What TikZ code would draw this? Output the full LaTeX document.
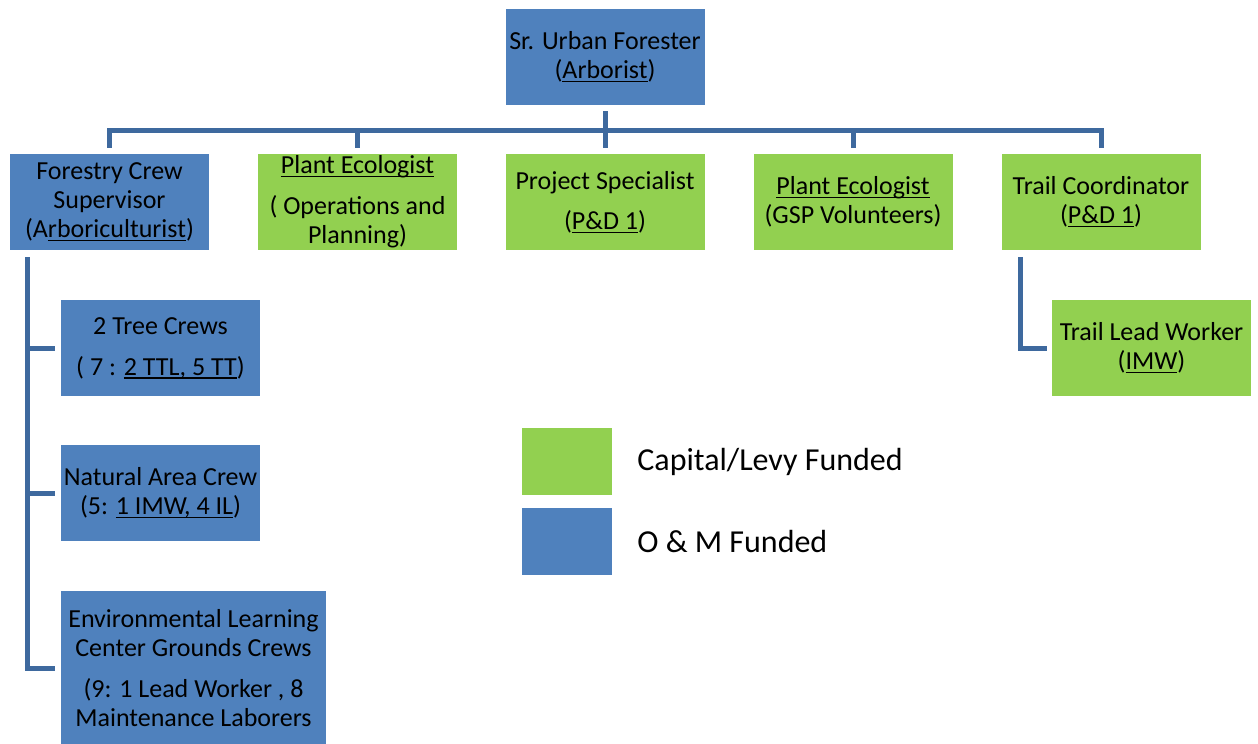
\documentclass[tikz,border=0pt]{standalone}
\usepackage{fontspec}
\setmainfont{Carlito}
\usetikzlibrary{positioning}
\definecolor{omblue}{HTML}{4F81BD}
\definecolor{levygreen}{HTML}{92D050}
\definecolor{linkblue}{HTML}{3E699E}
\newsavebox{\ulbox}
\newcommand{\uln}[1]{\sbox{\ulbox}{#1}\rlap{\rule[-3.5pt]{\wd\ulbox}{1.2pt}}\usebox{\ulbox}}

\begin{document}
\begin{tikzpicture}[x=1pt,y=-1pt,
    post/.style={minimum width=199pt,minimum height=96pt,inner sep=0pt,align=center,
      font={\fontsize{26}{29}\selectfont}},
    om/.style={post,fill=omblue},
    levy/.style={post,fill=levygreen},
    key/.style={minimum width=90pt,minimum height=67pt,inner sep=0pt},
    keytext/.style={inner sep=0pt,font={\fontsize{32}{36}\selectfont}},
    link/.style={draw=linkblue,line width=5pt}]
    \useasboundingbox (0,0) rectangle (1258,744);
    \node[om] (boss) at (605,57) {Sr. Urban Forester\\(\uln{Arborist})};
    \node[om] (fcs) at (109.5,202) {Forestry Crew\\Supervisor\\(A\uln{rboriculturist})};
    \node[levy] (pe1) at (357.5,202) {\uln{Plant Ecologist}\\[12pt]( Operations and\\Planning)};
    \node[levy] (ps) at (605,202) {Project Specialist\\[11pt](\uln{P\&D 1})};
    \node[levy] (pe2) at (853,202) {\uln{Plant Ecologist}\\(GSP Volunteers)};
    \node[levy] (trc) at (1101,202) {Trail Coordinator\\(\uln{P\&D 1})};
    \node[om] (tc) at (160.5,348) {2 Tree Crews\\[12pt]( 7 : \uln{2 TTL, 5 TT})};
    \node[om] (nac) at (160.5,493) {Natural Area Crew\\(5: \uln{1 IMW, 4 IL})};
    \node[om,minimum width=265pt,minimum height=155pt] (elc) at (193.5,668.5)
      {Environmental Learning\\Center Grounds Crews\\[12pt](9: 1 Lead Worker , 8\\Maintenance Laborers};
    \node[levy] (tlw) at (1151.5,348) {Trail Lead Worker\\(\uln{IMW})};

    \node[key,fill=levygreen] (levykey) at (567,461.5) {};
    \node[key,fill=omblue] (omkey) at (567,541.5) {};
    \node[keytext,right=25pt of levykey] (levytext) {Capital/Levy Funded};
    \node[keytext,right=25pt of omkey] (omtext) {O \& M Funded};

    \coordinate (bus) at (605,130);
    \draw[link] ([yshift=-6pt]boss.south) -- ([yshift=6pt]ps.north);
    \draw[link] ([yshift=6pt]fcs.north) |- (bus) -| ([yshift=6pt]trc.north);
    \foreach \n in {pe1,pe2}
      \draw[link] ([yshift=6pt]\n.north) -- (\n.north |- bus);
    \coordinate (fcsdrop) at ([xshift=18pt,yshift=-7pt]fcs.south west);
    \draw[link] (fcsdrop) |- ([xshift=-6pt]elc.west);
    \foreach \n in {tc,nac}
      \draw[link] (fcsdrop |- \n.west) -- ([xshift=-6pt]\n.west);
    \coordinate (trcdrop) at ([xshift=19pt,yshift=-7pt]trc.south west);
    \draw[link] (trcdrop) |- ([xshift=-5pt]tlw.west);
  \end{tikzpicture}
\end{document}
